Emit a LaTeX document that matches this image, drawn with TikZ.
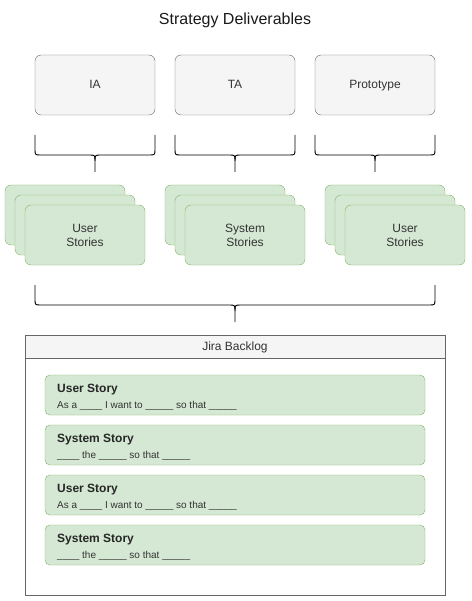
\documentclass[tikz,border=0pt]{standalone}
\usepackage{fontspec}
\setmainfont{Liberation Sans}
\definecolor{boxgray}{HTML}{F5F5F5}
\definecolor{linegray}{HTML}{666666}
\definecolor{textgray}{HTML}{333333}
\definecolor{storygreen}{HTML}{D5E8D4}
\definecolor{storyline}{HTML}{82B366}
\tikzset{
  deliverable/.style={draw=linegray, fill=boxgray, rounded corners=6pt,
    minimum width=120pt, minimum height=60pt, text=textgray, text height=8.6pt, text depth=2.5pt,
    font=\fontsize{12}{14}\selectfont},
  storystack/.style={draw=storyline, fill=storygreen, rounded corners=6pt,
    minimum width=120pt, minimum height=60pt, text=textgray, align=center,
    font=\fontsize{12}{14}\selectfont},
  storyitem/.style={draw=storyline, fill=storygreen, rounded corners=5pt,
    minimum width=380pt, minimum height=40pt},
  itemhead/.style={anchor=base west, inner sep=0pt, font=\bfseries\fontsize{12}{14}\selectfont, text=black!85},
  itembody/.style={anchor=base west, inner sep=0pt, font=\fontsize{10}{12}\selectfont, text=textgray},
  bracket/.style={draw=black, line width=0.9pt}
}
\begin{document}
\begin{tikzpicture}[x=1pt,y=-1pt]
\useasboundingbox (0,0) rectangle (471,601);
\node[font=\fontsize{16}{19}\selectfont, text=black!90] (title) at (235,20) {Strategy Deliverables};
% top deliverables
\node[deliverable] (ia) at (95,85) {IA};
\node[deliverable] (ta) at (235,85) {TA};
\node[deliverable] (proto) at (375,85) {Prototype};
% braces under the deliverables
\foreach \cx in {95,235,375} {
  \draw[bracket] (\cx-60,135) -- (\cx-60,149) .. controls (\cx-60,155) .. (\cx-54,155)
    -- (\cx-6,155) .. controls (\cx,155) .. (\cx,161) -- (\cx,172);
  \draw[bracket] (\cx+60,135) -- (\cx+60,149) .. controls (\cx+60,155) .. (\cx+54,155)
    -- (\cx+6,155) .. controls (\cx,155) .. (\cx,161);
}
% story stacks
\node[storystack] (iaback) at (65,215) {};
\node[storystack] (iamid) at (75,225) {};
\node[storystack] (iastories) at (85,235) {User\\Stories};
\node[storystack] (taback) at (225,215) {};
\node[storystack] (tamid) at (235,225) {};
\node[storystack] (tastories) at (245,235) {System\\Stories};
\node[storystack] (protoback) at (385,215) {};
\node[storystack] (protomid) at (395,225) {};
\node[storystack] (protostories) at (405,235) {User\\Stories};
% big brace
\draw[bracket] (35,285) -- (35,299) .. controls (35,305) .. (41,305)
  -- (229,305) .. controls (235,305) .. (235,311) -- (235,322);
\draw[bracket] (435,285) -- (435,299) .. controls (435,305) .. (429,305)
  -- (241,305) .. controls (235,305) .. (235,311);
% backlog
\draw[linegray, fill=white] (25,335) rectangle (445,595);
\draw[linegray, fill=boxgray] (25,335) rectangle (445,358);
\node[text=textgray, font=\fontsize{12}{14}\selectfont] (backlog) at (235,347) {Jira Backlog};
\node[storyitem] (item1) at (235,395) {};
\node[storyitem] (item2) at (235,445) {};
\node[storyitem] (item3) at (235,495) {};
\node[storyitem] (item4) at (235,545) {};
\node[itemhead] (head1) at (57,392) {User Story};
\node[itembody] (body1) at (57,408) {As a \_\_\_\_ I want to \_\_\_\_\_ so that \_\_\_\_\_};
\node[itemhead] (head2) at (57,442) {System Story};
\node[itembody] (body2) at (57,458) {\_\_\_\_ the \_\_\_\_\_ so that \_\_\_\_\_};
\node[itemhead] (head3) at (57,492) {User Story};
\node[itembody] (body3) at (57,508) {As a \_\_\_\_ I want to \_\_\_\_\_ so that \_\_\_\_\_};
\node[itemhead] (head4) at (57,542) {System Story};
\node[itembody] (body4) at (57,558) {\_\_\_\_ the \_\_\_\_\_ so that \_\_\_\_\_};
\end{tikzpicture}
\end{document}
